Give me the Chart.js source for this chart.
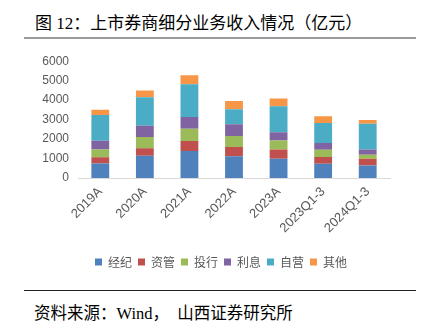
<!DOCTYPE html>
<html>
<head>
<meta charset="utf-8">
<script src="https://cdn.jsdelivr.net/npm/chart.js@4"></script>
<style>
  html, body { margin: 0; padding: 0; background: #fff; }
  body { width: 424px; height: 328px; position: relative; overflow: hidden; }
  .title { position: absolute; left: 35px; top: 9px; font: 17px "Liberation Serif", "Noto Sans CJK SC", serif; color: #000; white-space: pre; }
  .rule-top { position: absolute; left: 24px; top: 37px; width: 392px; height: 2px; background: #9a9a9a; }
  .rule-bottom { position: absolute; left: 24px; top: 290px; width: 392px; height: 1px; background: #222; }
  .source { position: absolute; left: 34px; top: 300px; font: 16.5px "Liberation Serif", "Noto Sans CJK SC", serif; color: #000; white-space: pre; }
  #chart { position: absolute; left: 0; top: 45px; }
</style>
</head>
<body>
<div class="title">图 12：上市券商细分业务收入情况（亿元）</div>
<div class="rule-top"></div>
<canvas id="chart" width="424" height="240"></canvas>
<div class="rule-bottom"></div>
<div class="source">资料来源：Wind，  山西证券研究所</div>
<script>
const categories = ['2019A', '2020A', '2021A', '2022A', '2023A', '2023Q1-3', '2024Q1-3'];
const brokerage = [740, 1140, 1390, 1120, 985, 730, 645];   // 经纪
const assetMgmt = [320, 390, 510, 475, 475, 355, 340];      // 资管
const ibanking = [410, 575, 630, 560, 460, 360, 205];       // 投行
const interest = [445, 575, 600, 610, 430, 355, 270];       // 利息
const proprietary = [1325, 1465, 1685, 765, 1340, 1020, 1325]; // 自营
const other = [270, 345, 460, 425, 395, 355, 190];          // 其他
const yTicks = [0, 1000, 2000, 3000, 4000, 5000, 6000];

const series = [
  { label: '经纪', data: brokerage, color: '#4F81BD' },
  { label: '资管', data: assetMgmt, color: '#C0504D' },
  { label: '投行', data: ibanking, color: '#9BBB59' },
  { label: '利息', data: interest, color: '#8064A2' },
  { label: '自营', data: proprietary, color: '#4BACC6' },
  { label: '其他', data: other, color: '#F79646' }
];

const axisFont = { family: '"Liberation Sans", Arial, sans-serif', size: 12 };

// nudge the legend a little right so it centres like the original
const shiftLegend = {
  id: 'shiftLegend',
  afterLayout(chart) {
    if (chart.legend) { chart.legend.left += 6; chart.legend.right += 6; }
  }
};

new Chart(document.getElementById('chart').getContext('2d'), {
  type: 'bar',
  data: {
    labels: categories,
    datasets: series.map(s => ({
      label: s.label,
      data: s.data,
      backgroundColor: s.color,
      borderWidth: 0,
      barPercentage: 0.4,
      categoryPercentage: 1
    }))
  },
  options: {
    responsive: false,
    animation: false,
    devicePixelRatio: 1,
    layout: { padding: { left: 40, right: 34, top: 16, bottom: 7 } },
    scales: {
      x: {
        stacked: true,
        grid: { display: false, drawTicks: false },
        border: { display: true, color: '#d9d9d9', width: 1 },
        ticks: { color: '#595959', font: { family: axisFont.family, size: 13 }, minRotation: 45, maxRotation: 45, padding: 6 },
        afterFit: s => { s.height = 72; }
      },
      y: {
        stacked: true,
        min: 0,
        max: 6000,
        grid: { display: false, drawTicks: false },
        border: { display: false },
        afterBuildTicks: s => { s.ticks = yTicks.map(v => ({ value: v })); },
        ticks: { color: '#595959', font: axisFont, padding: 9, callback: v => String(v) },
        afterFit: s => { s.width = 38; }
      }
    },
    plugins: {
      legend: {
        position: 'bottom',
        labels: {
          boxWidth: 7,
          boxHeight: 7,
          padding: 6,
          color: '#595959',
          font: { family: '"Noto Sans CJK SC", sans-serif', size: 12 }
        }
      },
      tooltip: { enabled: false }
    }
  },
  plugins: [shiftLegend]
});
</script>
</body>
</html>
